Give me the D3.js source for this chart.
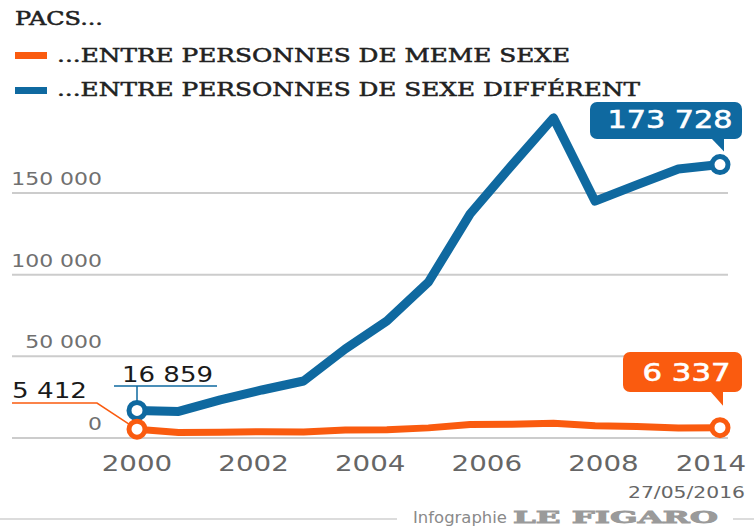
<!DOCTYPE html>
<html>
<head>
<meta charset="utf-8">
<script src="https://cdn.jsdelivr.net/npm/d3@7"></script>
<style>
  body { margin: 0; background: #fff; }
  svg { display: block; }
</style>
</head>
<body>
<svg id="chart" width="754" height="526"></svg>
<script>
// data
const years = [2000, 2001, 2002, 2003, 2004, 2005, 2006, 2007, 2008, 2009, 2010, 2011, 2012, 2013, 2014];
const sameSex = [5412, 3300, 3500, 3900, 3700, 4900, 5100, 6200, 8200, 8400, 9100, 7500, 7000, 6100, 6337];
const diffSex = [16859, 16300, 23300, 29400, 34900, 54500, 71600, 95500, 137200, 167000, 196000, 145000, 155000, 164700, 167400];
const xTickLabels = ["2000", "2002", "2004", "2006", "2008", "2014"];
const yTicks = [0, 50000, 100000, 150000];
const seriesNames = ["...ENTRE PERSONNES DE MEME SEXE", "...ENTRE PERSONNES DE SEXE DIFFÉRENT"];
const calloutValues = [6337, 173728];
const startValues = [5412, 16859];

const ORANGE = "#fa5b0f";
const BLUE = "#0f69a0";

const fmt = d3.formatLocale({decimal: ",", thousands: " ", grouping: [3]}).format(",");

const svg = d3.select("#chart");

const x = d3.scaleLinear().domain([2000, 2014]).range([137, 720]);
const y = d3.scaleLinear().domain([0, 150000]).range([438, 193]);
const xLab = d3.scalePoint().domain(xTickLabels).range([137, 720]);

// gridlines + y labels
svg.append("g").selectAll("line")
  .data(yTicks).enter().append("line")
  .attr("x1", 12).attr("x2", 728)
  .attr("y1", d => y(d)).attr("y2", d => y(d))
  .attr("stroke", "#cccccc").attr("stroke-width", 2);

svg.append("g").selectAll("text")
  .data(yTicks).enter().append("text")
  .attr("transform", d => "translate(102," + (y(d) - 8) + ") scale(1.22,1)")
  .attr("text-anchor", "end")
  .attr("font-family", "DejaVu Sans")
  .attr("font-size", 18)
  .attr("fill", "#707070")
  .text(d => fmt(d));

// x labels (spread evenly, as in the original)
svg.append("g").selectAll("text")
  .data(xTickLabels).enter().append("text")
  .attr("transform", (d, i) => "translate(" + (i === xTickLabels.length - 1 ? xLab(d) - 9 : xLab(d)) + ",471) scale(1.32,1)")
  .attr("text-anchor", "middle")
  .attr("font-family", "DejaVu Sans")
  .attr("font-size", 21)
  .attr("fill", "#666")
  .text(d => d);

// title + legend
svg.append("text")
  .attr("x", 15).attr("y", 25)
  .attr("font-family", "DejaVu Serif")
  .attr("font-size", 18)
  .attr("fill", "#222").attr("stroke", "#222").attr("stroke-width", 0.5)
  .attr("textLength", 88).attr("lengthAdjust", "spacingAndGlyphs")
  .text("PACS...");

const legW = [513, 583];
const legCol = [ORANGE, BLUE];
seriesNames.forEach(function(name, i){
  svg.append("rect")
    .attr("x", 15).attr("y", 52 + i * 35)
    .attr("width", 32).attr("height", 7)
    .attr("fill", legCol[i]);
  svg.append("text")
    .attr("x", 57).attr("y", 62 + i * 34)
    .attr("font-family", "DejaVu Serif")
    .attr("font-size", 19)
    .attr("fill", "#222").attr("stroke", "#222").attr("stroke-width", 0.5)
    .attr("textLength", legW[i]).attr("lengthAdjust", "spacingAndGlyphs")
    .text(name);
});

// lines
let line = d3.line()
  .x((d, i) => x(years[i]))
  .y(d => y(d));

svg.append("path")
  .datum(diffSex)
  .attr("d", line)
  .attr("fill", "none")
  .attr("stroke", BLUE).attr("stroke-width", 9)
  .attr("stroke-linejoin", "round");

svg.append("path")
  .datum(sameSex)
  .attr("d", line)
  .attr("fill", "none")
  .attr("stroke", ORANGE).attr("stroke-width", 7)
  .attr("stroke-linejoin", "round");

// start annotations
let yb0 = y(diffSex[0]);
svg.append("path")
  .attr("d", "M114,386H217M" + x(2000) + ",386V" + (yb0 - 9))
  .attr("fill", "none").attr("stroke", BLUE).attr("stroke-width", 1.5);
svg.append("text")
  .attr("x", 122).attr("y", 382)
  .attr("font-family", "DejaVu Sans").attr("font-size", 22)
  .attr("fill", "#1a1a1a")
  .attr("textLength", 91).attr("lengthAdjust", "spacingAndGlyphs")
  .text(fmt(startValues[1]));

let yo0 = y(sameSex[0]);
svg.append("path")
  .attr("d", "M12,403H97L" + (x(2000) - 8) + "," + (yo0 - 5))
  .attr("fill", "none").attr("stroke", ORANGE).attr("stroke-width", 1.5);
svg.append("text")
  .attr("x", 12).attr("y", 398)
  .attr("font-family", "DejaVu Sans").attr("font-size", 21)
  .attr("fill", "#1a1a1a")
  .attr("textLength", 75).attr("lengthAdjust", "spacingAndGlyphs")
  .text(fmt(startValues[0]));

// end point circles
const ends = [
  {v: diffSex[0], yr: years[0], c: BLUE},
  {v: diffSex[diffSex.length - 1], yr: years[years.length - 1], c: BLUE},
  {v: sameSex[0], yr: years[0], c: ORANGE},
  {v: sameSex[sameSex.length - 1], yr: years[years.length - 1], c: ORANGE}
];
svg.append("g").selectAll("circle")
  .data(ends).enter().append("circle")
  .attr("cx", d => x(d.yr)).attr("cy", d => y(d.v))
  .attr("r", 8)
  .attr("fill", "#fff")
  .attr("stroke", d => d.c).attr("stroke-width", 5);

// callouts
function callout(bx, by, bw, bh, tipX, tipY, col, txt, tw){
  svg.append("rect")
    .attr("x", bx).attr("y", by).attr("width", bw).attr("height", bh)
    .attr("rx", 7).attr("fill", col);
  svg.append("path")
    .attr("d", "M" + (tipX - 13) + "," + (by + bh - 1) + "L" + tipX + "," + tipY + "L" + tipX + "," + (by + bh - 1) + "Z")
    .attr("fill", col);
  svg.append("text")
    .attr("x", bx + bw / 2 + 4).attr("y", by + bh - 11)
    .attr("text-anchor", "middle")
    .attr("font-family", "DejaVu Sans").attr("font-size", 24)
    .attr("fill", "#fff").attr("stroke", "#fff").attr("stroke-width", 0.6)
    .attr("textLength", tw).attr("lengthAdjust", "spacingAndGlyphs")
    .text(txt);
}
callout(590, 102, 152, 37, 724, y(diffSex[diffSex.length - 1]) - 13, BLUE, fmt(calloutValues[1]), 125);
callout(623, 352, 119, 40, 723, y(sameSex[sameSex.length - 1]) - 22, ORANGE, fmt(calloutValues[0]), 88);

// footer
svg.append("text")
  .attr("x", 745).attr("y", 498)
  .attr("text-anchor", "end")
  .attr("font-family", "DejaVu Sans").attr("font-size", 15)
  .attr("fill", "#666")
  .attr("textLength", 117).attr("lengthAdjust", "spacingAndGlyphs")
  .text("27/05/2016");

svg.append("line").attr("x1", 0).attr("x2", 397).attr("y1", 519).attr("y2", 519)
  .attr("stroke", "#d0d0d0").attr("stroke-width", 1.5);
svg.append("line").attr("x1", 733).attr("x2", 754).attr("y1", 519).attr("y2", 519)
  .attr("stroke", "#d0d0d0").attr("stroke-width", 1.5);

svg.append("text")
  .attr("x", 413).attr("y", 523)
  .attr("font-family", "DejaVu Sans").attr("font-size", 15)
  .attr("fill", "#8a8a8a")
  .attr("textLength", 94).attr("lengthAdjust", "spacingAndGlyphs")
  .text("Infographie");

svg.append("text")
  .attr("x", 513).attr("y", 523)
  .attr("font-family", "DejaVu Serif").attr("font-weight", "bold").attr("font-size", 17)
  .attr("fill", "#9a9a9a").attr("stroke", "#9a9a9a").attr("stroke-width", 0.8)
  .attr("textLength", 205).attr("lengthAdjust", "spacingAndGlyphs")
  .text("LE FIGARO");
</script>
</body>
</html>
